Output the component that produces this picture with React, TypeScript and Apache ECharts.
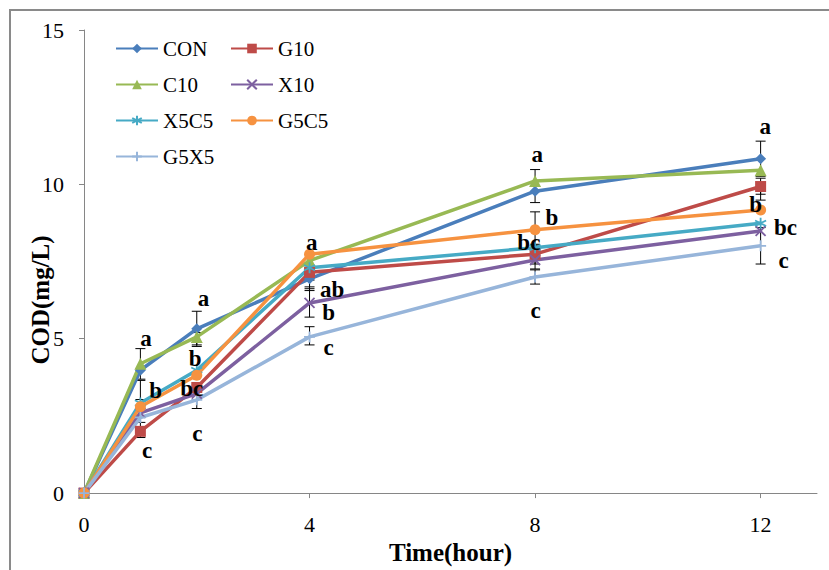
import React, { useEffect, useRef } from "react";
import * as echarts from "echarts";

const times = [0, 1, 2, 4, 8, 12];
const seriesNames = ["CON", "G10", "C10", "X10", "X5C5", "G5C5", "G5X5"];
const CON = [0, 3.98, 5.32, 6.94, 9.78, 10.83];
const G10 = [0, 2.0, 3.42, 7.15, 7.74, 9.93];
const C10 = [0, 4.19, 5.06, 7.53, 10.11, 10.46];
const X10 = [0, 2.6, 3.22, 6.16, 7.55, 8.49];
const X5C5 = [0, 2.92, 3.98, 7.3, 7.95, 8.74];
const G5C5 = [0, 2.8, 3.82, 7.74, 8.53, 9.17];
const G5X5 = [0, 2.45, 3.02, 5.06, 7.0, 8.01];
const seriesValues = [CON, G10, C10, X10, X5C5, G5C5, G5X5];

const colors = ["#4A7EBB", "#BE4B48", "#98B954", "#7D60A0", "#46AAC5", "#F69240", "#97B5DA"];

const xTickValues = [0, 4, 8, 12];

// error bars: [time, low, high]
const errorBars = [
  [1, 3.69, 4.68], [1, 3.03, 3.65], [1, 1.8, 2.29],
  [2, 4.75, 5.89], [2, 4.8, 5.2], [2, 2.74, 3.5],
  [4, 6.68, 7.2], [4, 6.56, 6.9], [4, 5.7, 6.62], [4, 4.8, 5.39],
  [8, 9.41, 10.48], [8, 8.03, 9.11], [8, 7.42, 8.06], [8, 7.26, 7.9], [8, 6.77, 7.23],
  [12, 10.26, 11.4], [12, 9.49, 9.84], [12, 9.68, 10.2], [12, 7.42, 8.6],
];

// significance letters: [time, value, letter]
const letters: [number, number, string][] = [
  [1.1, 5.0, "a"], [1.27, 3.33, "b"], [1.12, 1.39, "c"],
  [2.12, 6.29, "a"], [1.97, 4.35, "b"], [1.91, 3.39, "bc"], [2.01, 1.94, "c"],
  [4.04, 8.12, "a"], [4.4, 6.61, "ab"], [4.34, 5.86, "b"], [4.34, 4.73, "c"],
  [8.04, 10.97, "a"], [8.3, 8.93, "b"], [7.89, 8.12, "bc"], [8.01, 5.91, "c"],
  [12.08, 11.88, "a"], [11.91, 9.35, "b"], [12.44, 8.6, "bc"], [12.41, 7.53, "c"],
];

const serif = "Liberation Serif";

const symbols = [
  "diamond",
  "rect",
  "triangle",
  "path://M0,0L10,10M10,0L0,10",
  "path://M5,0L5,10M0,2.5L10,7.5M0,7.5L10,2.5",
  "circle",
  "path://M5,0L5,10M0,5L10,5",
];
const symbolSizes = [11, 11, 12, 10, 11, 11, 11];
const strokeSymbols = [false, false, false, true, true, false, true];

export default function App() {
  const ref = useRef<HTMLDivElement>(null);
  useEffect(() => {
    document.body.style.margin = "0";
    if (!ref.current) return;
    const chart = echarts.init(ref.current, null, { renderer: "svg" });

    const lineSeries = seriesNames.map((name, i) => ({
      name,
      type: "line",
      data: times.map((t, j) => [t, seriesValues[i][j]]),
      symbol: symbols[i],
      symbolSize: symbolSizes[i],
      showSymbol: true,
      z: 2,
      lineStyle: { color: colors[i], width: 3.5 },
      itemStyle: strokeSymbols[i]
        ? { color: colors[i], borderColor: colors[i], borderWidth: 1.8 }
        : { color: colors[i], borderWidth: 0 },
    }));

    const legendText = { fontFamily: serif, fontSize: 21, color: "#000" };

    const option: any = {
      animation: false,
      textStyle: { fontFamily: serif },
      grid: { left: 84, right: 12, top: 30, bottom: 75 },
      graphic: [
        {
          type: "rect",
          shape: { x: 10, y: 10, width: 840, height: 600 },
          style: { fill: "none", stroke: "#8a8a8a", lineWidth: 2 },
          silent: true,
        },
        {
          type: "text",
          x: 40,
          y: 300,
          rotation: Math.PI / 2,
          style: {
            text: "COD(mg/L)",
            font: `bold 25px ${serif}`,
            fill: "#000",
            align: "center",
            verticalAlign: "middle",
          },
        },
      ],
      legend: [
        {
          data: ["CON", "C10", "X5C5", "G5X5"],
          orient: "vertical",
          left: 110,
          top: 33,
          itemWidth: 42,
          itemHeight: 12,
          itemGap: 15,
          textStyle: legendText,
        },
        {
          data: ["G10", "X10", "G5C5"],
          orient: "vertical",
          left: 225,
          top: 33,
          itemWidth: 42,
          itemHeight: 12,
          itemGap: 15,
          textStyle: legendText,
        },
      ],
      xAxis: {
        type: "value",
        min: 0,
        max: 13,
        interval: 4,
        name: "Time(hour)",
        nameLocation: "middle",
        nameGap: 43,
        nameTextStyle: { fontFamily: serif, fontSize: 25, fontWeight: "bold", color: "#000" },
        axisLine: { show: true, lineStyle: { color: "#868686", width: 1 } },
        axisTick: { show: true, length: 5, customValues: xTickValues, lineStyle: { color: "#868686" } },
        axisLabel: {
          customValues: xTickValues,
          margin: 20,
          fontFamily: serif,
          fontSize: 22,
          color: "#000",
        },
        splitLine: { show: false },
      },
      yAxis: {
        type: "value",
        min: 0,
        max: 15,
        interval: 5,
        axisLine: { show: true, lineStyle: { color: "#868686", width: 1 } },
        axisTick: { show: true, length: 5, lineStyle: { color: "#868686" } },
        axisLabel: { margin: 20, fontFamily: serif, fontSize: 22, color: "#000" },
        splitLine: { show: false },
      },
      series: [
        {
          type: "custom",
          name: "err",
          z: 1,
          silent: true,
          data: errorBars,
          encode: { x: 0, y: [1, 2] },
          renderItem: (_params: any, api: any) => {
            const x = api.value(0);
            const p1 = api.coord([x, api.value(1)]);
            const p2 = api.coord([x, api.value(2)]);
            const w = 5;
            const st = { stroke: "#000", lineWidth: 1 };
            return {
              type: "group",
              children: [
                { type: "line", shape: { x1: p1[0], y1: p1[1], x2: p2[0], y2: p2[1] }, style: st },
                { type: "line", shape: { x1: p1[0] - w, y1: p1[1], x2: p1[0] + w, y2: p1[1] }, style: st },
                { type: "line", shape: { x1: p2[0] - w, y1: p2[1], x2: p2[0] + w, y2: p2[1] }, style: st },
              ],
            };
          },
        },
        ...lineSeries,
        {
          type: "custom",
          name: "letters",
          z: 5,
          silent: true,
          data: letters.map((l) => [l[0], l[1]]),
          encode: { x: 0, y: 1 },
          renderItem: (params: any, api: any) => {
            const p = api.coord([api.value(0), api.value(1)]);
            return {
              type: "text",
              x: p[0],
              y: p[1],
              style: {
                text: letters[params.dataIndex][2],
                font: `bold 23px ${serif}`,
                fill: "#000",
                align: "center",
                verticalAlign: "middle",
              },
            };
          },
        },
      ],
    };
    chart.setOption(option);
    return () => chart.dispose();
  }, []);
  return <div ref={ref} style={{ width: 829, height: 570 }} />;
}
